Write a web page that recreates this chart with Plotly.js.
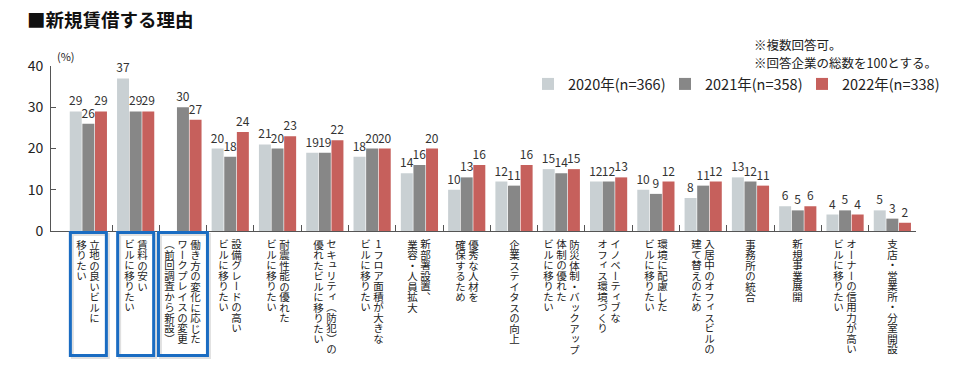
<!DOCTYPE html>
<html>
<head>
<meta charset="utf-8">
<script src="https://cdn.plot.ly/plotly-3.0.1.min.js"></script>
<style>
html,body{margin:0;padding:0;background:#fff;}
#chart{width:960px;height:370px;}
/* vertical Japanese category labels (annotations drawn at 10.5px) */
text.annotation-text[style*="10.5px"]{writing-mode:vertical-rl;text-orientation:upright;}
/* wider legend swatches like the reference */
path.legendbar{transform:translate(24px,0) scale(1.6,1.1);}
</style>
</head>
<body>
<div id="chart"></div>
<script>
// ---- data ----
const categories = [
  "立地の良いビルに移りたい","賃料の安いビルに移りたい","働き方の変化に応じたワークプレイスの変更（前回調査から新設）",
  "設備グレードの高いビルに移りたい","耐震性能の優れたビルに移りたい","セキュリティ（防犯）の優れたビルに移りたい",
  "1フロア面積が大きなビルに移りたい","新部署設置、業容・人員拡大","優秀な人材を確保するため","企業ステイタスの向上",
  "防災体制・バックアップ体制の優れたビルに移りたい","イノベーティブなオフィス環境づくり","環境に配慮したビルに移りたい",
  "入居中のオフィスビルの建て替えのため","事務所の統合","新規事業展開","オーナーの信用力が高いビルに移りたい","支店・営業所・分室開設"
];
// vertical label columns (first column is rightmost)
const labelColumns = [
  ["立地の良いビルに","移りたい"],
  ["賃料の安い","ビルに移りたい"],
  ["働き方の変化に応じた","ワークプレイスの変更","（前回調査から新設）"],
  ["設備グレードの高い","ビルに移りたい"],
  ["耐震性能の優れた","ビルに移りたい"],
  ["セキュリティ（防犯）の","優れたビルに移りたい"],
  ["1フロア面積が大きな","ビルに移りたい"],
  ["新部署設置、","業容・人員拡大"],
  ["優秀な人材を","確保するため"],
  ["企業ステイタスの向上"],
  ["防災体制・バックアップ","体制の優れた","ビルに移りたい"],
  ["イノベーティブな","オフィス環境づくり"],
  ["環境に配慮した","ビルに移りたい"],
  ["入居中のオフィスビルの","建て替えのため"],
  ["事務所の統合"],
  ["新規事業展開"],
  ["オーナーの信用力が高い","ビルに移りたい"],
  ["支店・営業所・分室開設"]
];
const boxed = [true,true,true,false,false,false,false,false,false,false,false,false,false,false,false,false,false,false];
const v2020 = [29,37,null,20,21,19,18,14,10,12,15,12,10,8,13,6,4,5];
const v2021 = [26,29,30,18,20,19,20,16,13,11,14,12,9,11,12,5,5,3];
const v2022 = [29,29,27,24,23,22,20,20,16,16,15,13,12,12,11,6,4,2];
const seriesNames = ["2020年(n=366)","2021年(n=358)","2022年(n=338)"];
const seriesColors = ["#c9d0d3","#878787","#c6605c"];
const yTicks = [0,10,20,30,40];
const titleText = "■新規賃借する理由";
const notes = ["※複数回答可。","※回答企業の総数を100とする。"];
const unitLabel = "(%)";

// ---- layout helpers ----
const M = {l:51, r:44, t:66, b:139, autoexpand:false};
const PW = 960 - M.l - M.r, PH = 370 - M.t - M.b;
const px2x = p => (p - M.l) / PW;
const py2y = p => (M.t + PH - p) / PH;
const FONT = '"Noto Sans CJK JP", "Noto Sans", sans-serif';

const idx = categories.map((c,i)=>i);
const seriesVals = [v2020, v2021, v2022];
const traces = seriesVals.map((vals,s)=>({
  type:'bar', x: idx, y: vals, name: seriesNames[s],
  marker:{color: seriesColors[s], line:{width:0}},
  text: vals.map(v=> v==null ? '' : String(v)),
  textposition:'outside', cliponaxis:false, constraintext:'none',
  textfont:{family:FONT, size:12, color:'#333'},
  hoverinfo:'none'
}));

const annotations = [];
const shapes = [];
labelColumns.forEach((cols,i)=>{
  const n = cols.length;
  cols.forEach((col,c)=>{
    const xs = ((n-1)/2 - c) * 13;
    annotations.push({
      x: i, xref:'x', y: 0, yref:'paper', xanchor:'center', yanchor:'top',
      xshift: xs, yshift: -7, text: col, borderpad:0,
      showarrow:false, font:{family:FONT, size:10.5, color:'#222'}
    });
  });
  if (boxed[i]) {
    const half = n*6.5 + 5;
    shapes.push({type:'rect', xref:'x', xsizemode:'pixel', xanchor:i, x0:-half+2, x1:half+2,
      yref:'paper', y0: py2y(357.5), y1: py2y(234.5), line:{width:3, color:'rgba(0,0,0,0.12)'}, fillcolor:'rgba(0,0,0,0)', layer:'below'});
    shapes.push({type:'rect', xref:'x', xsizemode:'pixel', xanchor:i, x0:-half, x1:half,
      yref:'paper', y0: py2y(355.5), y1: py2y(232.5), line:{width:3, color:'#1a6cc2'}, fillcolor:'rgba(0,0,0,0)'});
  }
});

// notes, unit
const noteY = [44, 62.3];
notes.forEach((t,k)=>{
  annotations.push({xref:'paper', yref:'paper', x:px2x(753), y:py2y(noteY[k]), xanchor:'left', yanchor:'middle', align:'left',
    text:t, borderpad:0, showarrow:false, font:{family:FONT, size:12.5, color:'#222'}});
});
annotations.push({xref:'paper', yref:'paper', x:px2x(56), y:py2y(56), xanchor:'left', yanchor:'middle',
  text:unitLabel, borderpad:0, showarrow:false, font:{family:FONT, size:11, color:'#222'}});

const layout = {
  width:960, height:370, margin:M,
  paper_bgcolor:'#fff', plot_bgcolor:'#fff',
  font:{family:FONT, color:'#222'},
  title:{text:'<b>'+titleText+'</b>', x:27/960, xanchor:'left', xref:'container', y:1-21/370, yanchor:'middle', yref:'container',
    font:{family:FONT, size:18.5, color:'#111'}},
  barmode:'group', bargap:0.2, bargroupgap:0.05,
  xaxis:{type:'linear', range:[-0.79, 17.5], showgrid:false, zeroline:false, showline:true, linecolor:'#555', linewidth:1,
    tickmode:'array', tickvals: idx.map(i=>i+0.5), ticks:'inside', ticklen:6, tickcolor:'#555', showticklabels:false, fixedrange:true},
  yaxis:{range:[0,40], tickmode:'array', tickvals:yTicks, showgrid:false, zeroline:false, showline:true, linecolor:'#555', linewidth:1,
    ticks:'inside', ticklen:5, tickcolor:'#555', tickfont:{family:FONT, size:14, color:'#222'}, ticklabelstandoff:4, fixedrange:true},
  legend:{orientation:'h', x:px2x(528), xanchor:'left', y:py2y(84), yanchor:'middle',
    font:{family:FONT, size:14.5, color:'#222'}, itemwidth:30, entrywidth:92, entrywidthmode:'pixels',
    traceorder:'normal', bgcolor:'rgba(0,0,0,0)'},
  annotations, shapes, showlegend:true
};
Plotly.newPlot('chart', traces, layout, {displayModeBar:false, staticPlot:true});
</script>
</body>
</html>
